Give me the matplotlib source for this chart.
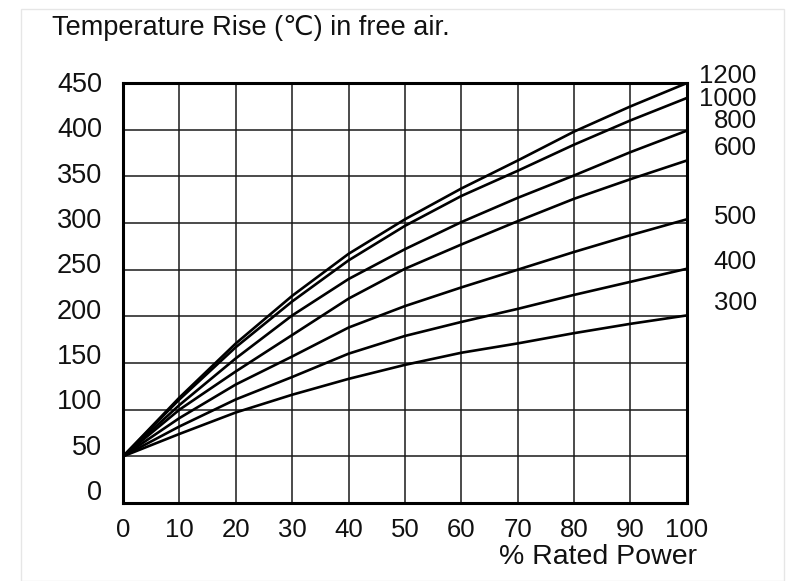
import matplotlib.pyplot as plt
import matplotlib.transforms as mtransforms
import numpy as np

plt.rcParams['font.family'] = ['Liberation Sans', 'DejaVu Sans']

# % rated power
power = [0, 10, 20, 30, 40, 50, 60, 70, 80, 90, 100]

# temperature rise for each curve
series = {
    '1200': [50, 113, 171, 222, 267, 304, 337, 367, 398, 425, 450],
    '1000': [50, 111, 167, 216, 260, 297, 329, 356, 384, 410, 434],
    '800': [50, 105, 155, 201, 240, 272, 301, 327, 351, 376, 399],
    '600': [50, 100, 141, 180, 219, 251, 277, 302, 326, 347, 367],
    '500': [50, 91, 127, 157, 188, 211, 231, 250, 269, 287, 304],
    '400': [50, 82, 111, 135, 160, 179, 194, 208, 223, 237, 251],
    '300': [50, 74, 97, 116, 133, 148, 161, 171, 182, 192, 201],
}

x_ticks = list(range(0, 101, 10))
y_ticks = list(range(0, 451, 50))

# where the curve names sit on the right
label_y = [458, 433, 409, 380, 306, 258, 214]

fig = plt.figure(figsize=(7.94, 5.81), dpi=100)
ax = fig.add_axes([0.155, 0.1343, 0.71, 0.7227])

# faint frame round the whole picture
fig.patches.append(plt.Rectangle((0.027, 0.0), 0.96, 0.985, transform=fig.transFigure,
                                 fill=False, edgecolor='#e6e6e6', linewidth=1))

for name, vals in series.items():
    ax.plot(power, vals, color='black', linewidth=1.9, solid_capstyle='round')

ax.set_xlim(0, 100)
ax.set_ylim(0, 450)
ax.set_xticks(x_ticks)
ax.set_yticks(y_ticks)
ax.grid(True, color='#1a1a1a', linewidth=1.1)
ax.set_axisbelow(True)
ax.tick_params(length=0, labelcolor='#111111')
ax.tick_params(axis='y', pad=15, labelsize=19.5)
ax.tick_params(axis='x', pad=11, labelsize=18.5)
for s in ax.spines.values():
    s.set_linewidth(2.2)
    s.set_color('black')

# y tick labels drift above their lines towards the bottom, as in the original
for v, lab in zip(y_ticks, ax.get_yticklabels()):
    shift = (1 + 12 * (1 - v / 450)) * 0.72
    offset = mtransforms.ScaledTranslation(0, shift / 72, fig.dpi_scale_trans)
    lab.set_transform(lab.get_transform() + offset)

for name, y in zip(series.keys(), label_y):
    ax.text(112.4, y, name, ha='right', va='center', fontsize=18.5,
            color='#111111', clip_on=False)

fig.text(0.066, 0.951, 'Temperature Rise (\u2103) in free air.', fontsize=19.5,
         color='#111111', ha='left', va='center')
fig.text(0.878, 0.0413, '% Rated Power', fontsize=20.5, color='#111111',
         ha='right', va='center')

plt.savefig('out.png', dpi=100)
